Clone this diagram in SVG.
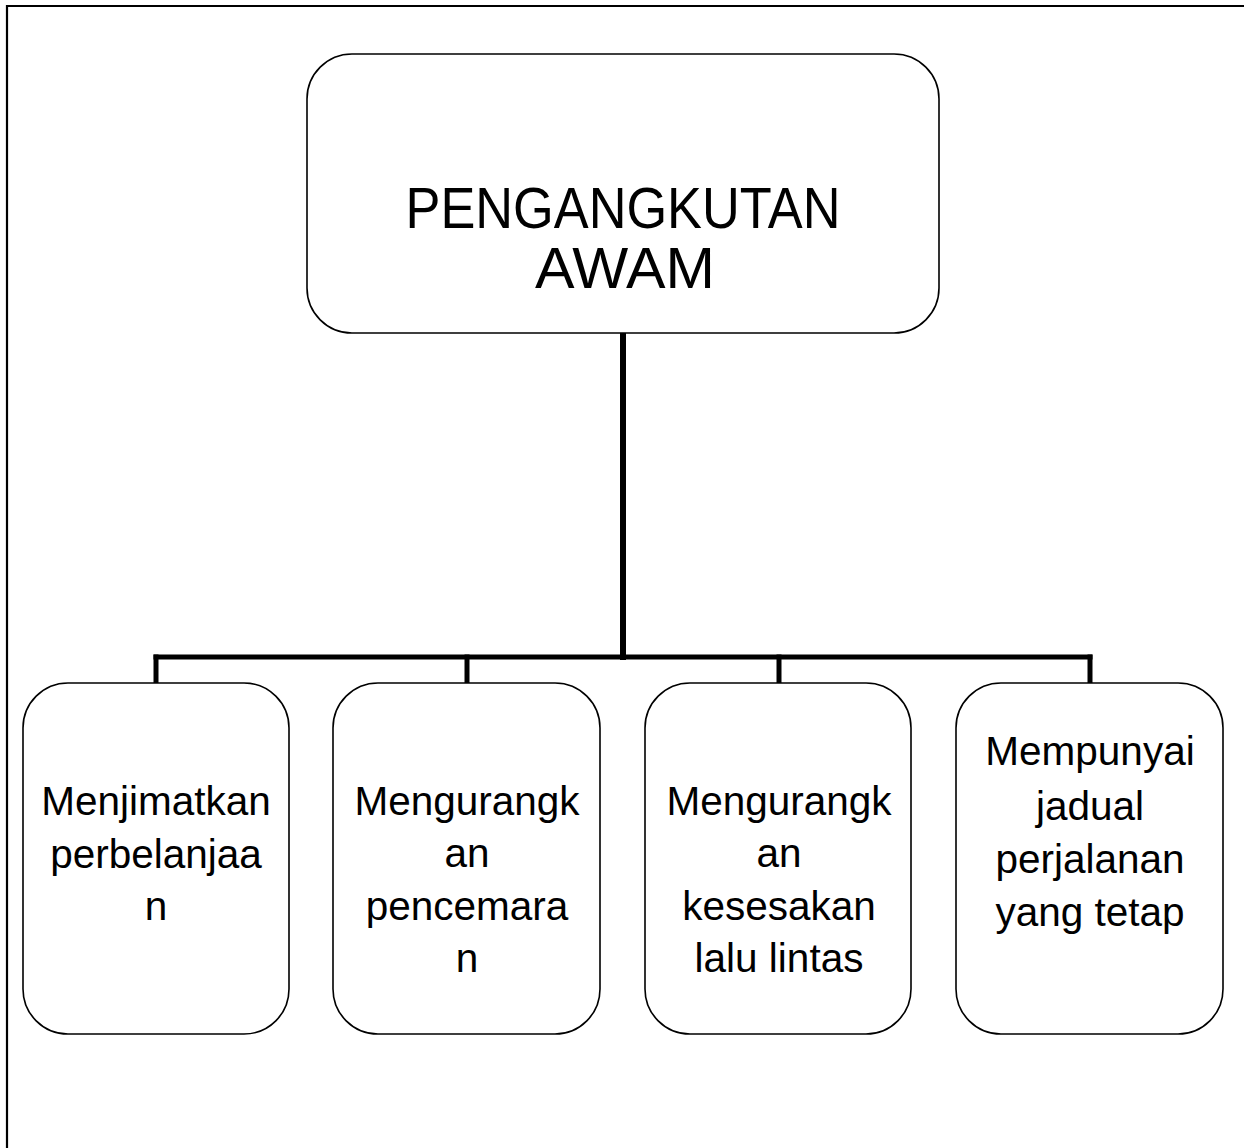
<svg xmlns="http://www.w3.org/2000/svg" width="1244" height="1148" viewBox="0 0 1244 1148">
<style>
.box{fill:#fff;stroke:#000;stroke-width:1.6}
.t{font-family:"Liberation Sans",Arial,sans-serif;font-size:40.5px;fill:#000;text-anchor:middle}
.title{font-family:"Liberation Sans",Arial,sans-serif;font-size:57px;fill:#000;text-anchor:middle}
.c{stroke:#000;fill:none;stroke-linecap:square}
</style>
<rect x="0" y="0" width="1244" height="1148" fill="#fff"/>
<path d="M7 1160 V6 H1260" fill="none" stroke="#000" stroke-width="2.2"/>
<g id="connectors">
<line class="c" x1="623" y1="334" x2="623" y2="657" stroke-width="6"/>
<line class="c" x1="156" y1="657" x2="1090" y2="657" stroke-width="5"/>
<line class="c" x1="156" y1="657" x2="156" y2="683" stroke-width="5"/>
<line class="c" x1="467" y1="657" x2="467" y2="683" stroke-width="5"/>
<line class="c" x1="779" y1="657" x2="779" y2="683" stroke-width="5"/>
<line class="c" x1="1090" y1="657" x2="1090" y2="683" stroke-width="5"/>
</g>
<g id="root">
<rect class="box" x="307" y="54" width="632" height="279" rx="45" ry="45"/>
<text class="title" x="623" y="228" textLength="435" lengthAdjust="spacingAndGlyphs">PENGANGKUTAN</text>
<text class="title" x="625" y="288" textLength="180" lengthAdjust="spacingAndGlyphs">AWAM</text>
</g>
<g id="n1">
<rect class="box" x="23" y="683" width="266" height="351" rx="45" ry="45"/>
<text class="t" x="156" y="815">Menjimatkan</text>
<text class="t" x="156" y="868">perbelanjaa</text>
<text class="t" x="156" y="920">n</text>
</g>
<g id="n2">
<rect class="box" x="333" y="683" width="267" height="351" rx="45" ry="45"/>
<text class="t" x="467" y="815">Mengurangk</text>
<text class="t" x="467" y="867">an</text>
<text class="t" x="467" y="920">pencemara</text>
<text class="t" x="467" y="972">n</text>
</g>
<g id="n3">
<rect class="box" x="645" y="683" width="266" height="351" rx="45" ry="45"/>
<text class="t" x="779" y="815">Mengurangk</text>
<text class="t" x="779" y="867">an</text>
<text class="t" x="779" y="920">kesesakan</text>
<text class="t" x="779" y="972">lalu lintas</text>
</g>
<g id="n4">
<rect class="box" x="956" y="683" width="267" height="351" rx="45" ry="45"/>
<text class="t" x="1090" y="765">Mempunyai</text>
<text class="t" x="1090" y="820">jadual</text>
<text class="t" x="1090" y="873">perjalanan</text>
<text class="t" x="1090" y="926">yang tetap</text>
</g>
</svg>
